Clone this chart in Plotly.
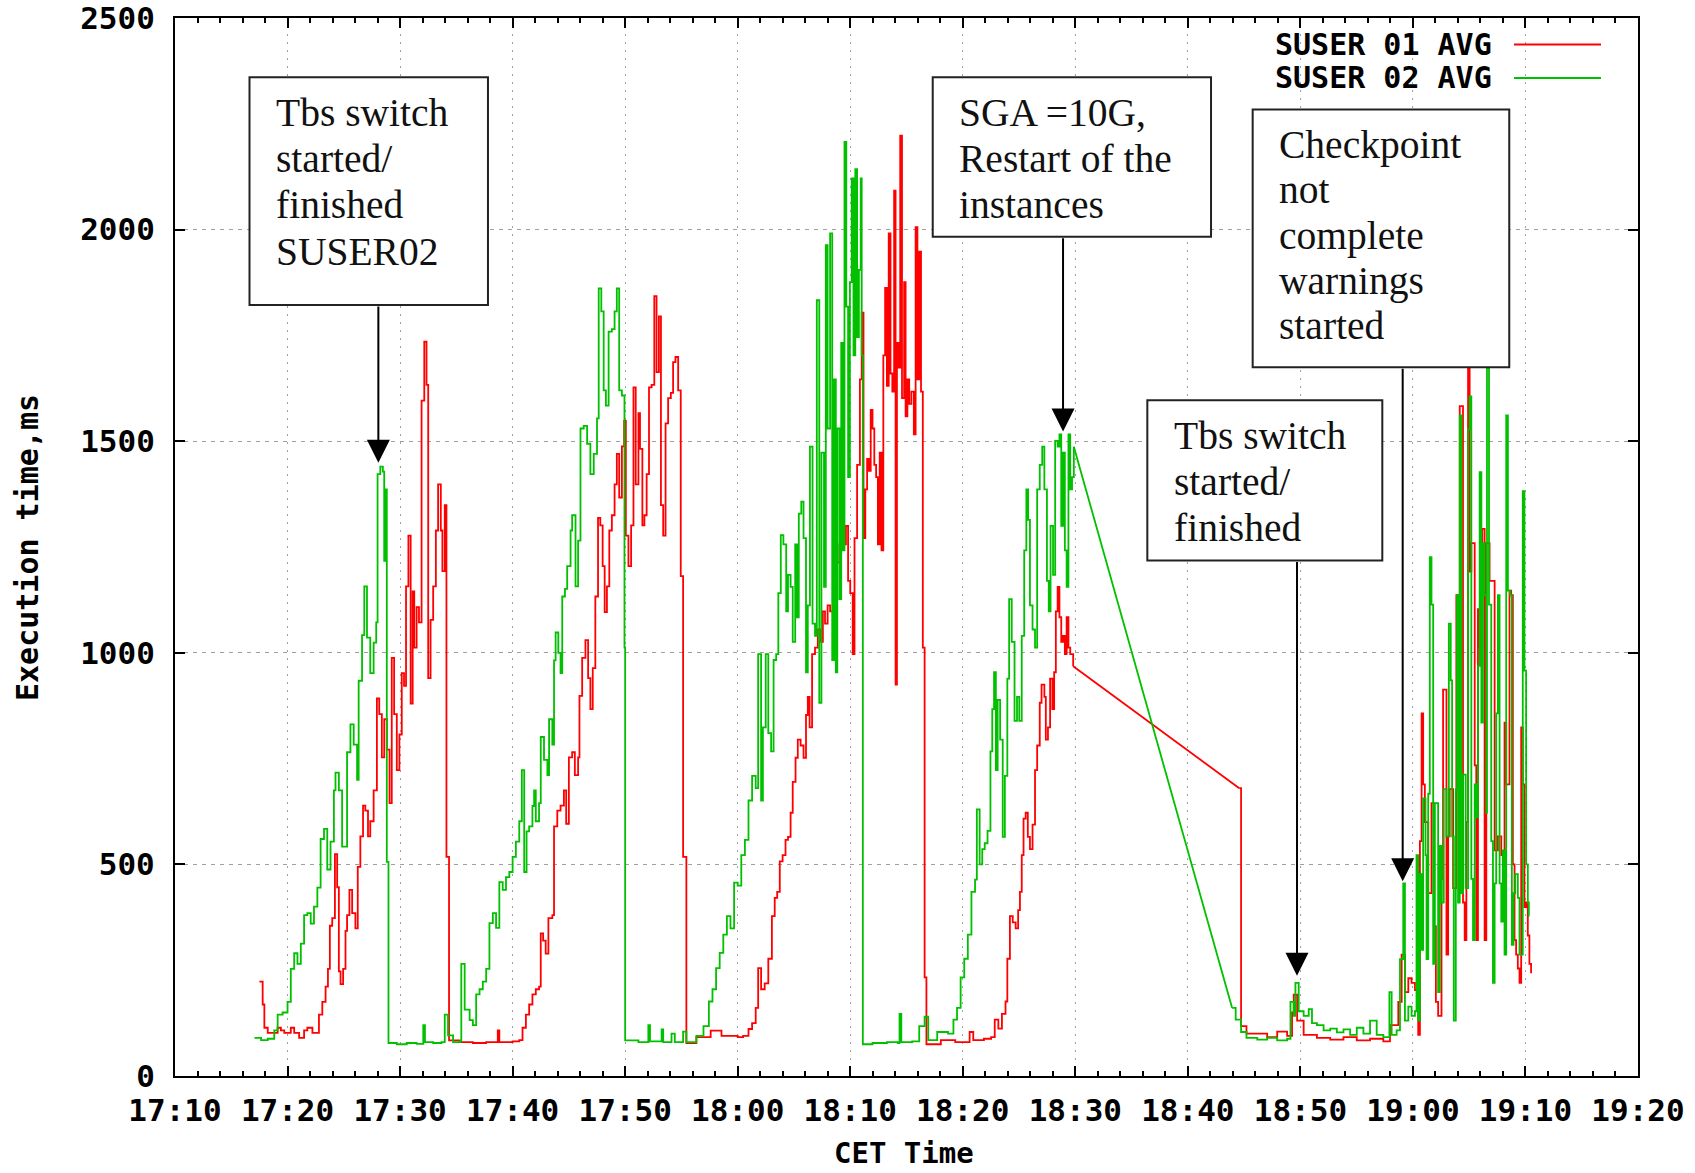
import numpy as np
import pandas as pd
import plotly.graph_objects as go

# ---------------- data (minutes after 17:00, execution time in ms) ----------------
red_cycle1 = [(17.50,223),(17.79,169),(17.94,114),(18.24,102),(18.82,102),(19.12,114),(19.41,108),(19.71,102),(20.29,114),(20.59,102),(21.03,90),(21.47,108),(21.76,114),(22.21,102),(22.65,102),(22.79,145),(23.09,175),(23.38,211),(23.59,253),(23.76,355),(23.97,373),(24.21,524),(24.41,446),(24.56,247),(24.71,217),(24.94,253),(25.15,343),(25.29,380),(25.50,440),(25.74,385),(26.03,349),(26.24,494),(26.47,566),(26.71,639),(26.91,627),(27.15,566),(27.35,602),(27.65,675),(27.94,892),(28.15,855),(28.38,753),(28.59,843),(28.82,771),(29.06,645),(29.26,988),(29.47,855),(29.71,723),(29.94,807),(30.15,952),(30.35,922),(30.53,1157),(30.74,1277),(30.94,880),(31.12,1145),(31.26,1012),(31.47,1108),(31.68,1072),(31.91,1596),(32.15,1735),(32.35,1633),(32.50,940),(32.71,1078),(32.94,1157),(33.18,1289),(33.38,1398),(33.62,1289),(33.76,1193),(33.97,1349),(34.12,518),(34.35,84)]
red_cycle2 = [(35.29,80),(36.47,78),(37.65,80),(38.68,108),(38.82,80),(40.0,82),(40.59,85),(40.88,114),(41.18,145),(41.47,169),(41.76,193),(42.06,205),(42.35,211),(42.50,337),(42.71,320),(42.94,289),(43.18,373),(43.53,380),(43.68,590),(43.97,627),(44.26,639),(44.56,675),(44.76,596),(45.0,753),(45.29,765),(45.53,711),(45.82,753),(45.94,898),(46.18,988),(46.47,1030),(46.71,940),(46.91,867),(47.12,964),(47.35,1133),(47.59,1319),(47.79,1301),(48.0,1205),(48.18,1096),(48.38,1157),(48.59,1289),(48.82,1325),(49.06,1398),(49.26,1470),(49.47,1367),(49.71,1488),(49.91,1548),(50.06,1277),(50.29,1205),(50.53,1301),(50.74,1627),(50.94,1398),(51.18,1566),(51.32,1482),(51.53,1301),(51.71,1325),(51.91,1422),(52.12,1627),(52.35,1633),(52.59,1843),(52.79,1663),(53.0,1795),(53.18,1349),(53.38,1277),(53.59,1542),(53.82,1602),(54.06,1614),(54.26,1687),(54.47,1699),(54.71,1620),(54.94,1181),(55.15,518),(55.44,78)]
red_cycle3 = [(56.33,92),(57.60,107),(58.56,95),(60.0,92),(60.48,95),(60.96,111),(61.28,125),(61.60,161),(61.82,255),(62.08,205),(62.40,219),(62.72,277),(63.04,378),(63.29,421),(63.51,435),(63.74,507),(63.99,522),(64.25,558),(64.47,565),(64.70,622),(64.89,695),(65.14,752),(65.34,795),(65.59,781),(65.85,752),(66.07,853),(66.23,896),(66.39,824),(66.61,997),(66.87,1012),(67.12,1055),(67.35,1026),(67.57,1098),(67.76,1069),(67.99,1112),(68.21,1098),(68.47,1127),(68.63,1055),(68.79,1213),(69.04,1256),(69.27,1357),(69.42,1256),(69.62,1300),(69.81,1170),(70.0,1141),(70.22,997),(70.38,1271),(70.61,1444),(70.86,1646),(71.02,1804),(71.18,1271),(71.34,1386),(71.50,1458),(71.66,1430),(71.82,1574),(71.98,1530),(72.14,1444),(72.30,1415),(72.46,1256),(72.62,1473),(72.78,1242),(72.94,1703),(73.10,1862),(73.26,1631),(73.42,1991),(73.58,1660),(73.74,1617),(73.90,2092),(74.03,925),(74.15,1732),(74.28,1674),(74.44,2222),(74.60,1602),(74.79,1876),(74.92,1559),(75.08,1646),(75.24,1588),(75.43,1617),(75.65,1516),(75.81,2006),(75.97,1646),(76.13,1948),(76.29,1617),(76.45,1012),(76.61,233),(76.77,75)]
red_cycle4 = [(78.05,85),(79.33,80),(80.61,104),(80.93,85),(81.88,88),(82.52,92),(82.84,133),(83.16,112),(83.48,147),(83.80,176),(83.96,277),(84.19,378),(84.44,363),(84.70,349),(84.92,392),(85.08,435),(85.24,522),(85.40,608),(85.59,622),(85.78,565),(85.97,536),(86.20,594),(86.42,723),(86.61,781),(86.84,882),(87.0,925),(87.25,896),(87.38,795),(87.57,824),(87.76,939),(87.96,867),(88.12,954),(88.27,1098),(88.43,1156),(88.59,1084),(88.75,1026),(88.91,1040),(89.07,997),(89.23,1084),(89.39,1012),(89.55,997),(89.81,968),(104.57,680),(104.73,118),(105.21,100)]
red_cycle5 = [(106.17,100),(107.05,92),(107.94,105),(108.82,95),(109.26,150),(109.41,192),(109.71,131),(110.29,97),(111.47,90),(112.65,86),(113.83,92),(115.01,84),(116.19,88),(117.37,82),(117.96,120),(118.55,120),(118.70,175),(119.0,287),(119.29,198),(119.59,231),(119.88,220),(120.18,203),(120.47,97),(120.62,555),(120.77,857),(120.91,689),(121.06,600),(121.36,432),(121.65,645),(121.86,354),(122.04,175),(122.24,142),(122.54,466),(122.68,913),(122.98,287),(123.13,566),(123.27,678),(123.57,444),(123.86,1136),(124.16,1583),(124.45,410),(124.60,321),(124.75,600),(124.90,1673),(125.04,1192),(125.19,1259),(125.49,734),(125.63,321),(125.78,1103),(125.93,1013),(126.16,1293),(126.37,321),(126.52,1259),(126.81,1170),(127.26,533),(127.55,566),(127.85,522),(128.14,835),(128.29,689),(128.58,1147),(128.73,1136),(128.88,500),(129.03,321),(129.17,287),(129.32,254),(129.47,220),(129.62,824),(129.76,689),(129.91,399),(130.06,410),(130.21,332),(130.35,265),(130.50,243)]

green_cycle1 = [(17.06,90),(17.65,85),(18.24,88),(18.82,108),(19.12,145),(19.56,150),(20.0,175),(20.29,253),(20.59,290),(20.88,265),(21.18,313),(21.47,380),(21.76,385),(22.06,360),(22.35,400),(22.65,445),(22.94,560),(23.24,584),(23.53,488),(23.82,554),(24.12,675),(24.26,717),(24.56,675),(24.85,542),(25.15,542),(25.29,765),(25.59,831),(25.88,783),(26.18,700),(26.32,934),(26.62,1042),(26.82,1157),(27.06,1036),(27.35,952),(27.65,1024),(27.88,1072),(28.0,1422),(28.24,1440),(28.47,1428),(28.59,1217),(28.74,1386),(28.82,506),(28.97,78)]
green_cycle2 = [(29.71,75),(30.59,78),(31.47,76),(32.06,120),(32.21,80),(32.94,78),(33.68,80),(33.97,145),(34.26,96),(34.71,80),(35.29,82),(35.44,265),(35.74,157),(36.18,132),(36.47,120),(36.76,193),(37.06,205),(37.35,223),(37.65,253),(37.94,361),(38.24,385),(38.53,350),(38.82,458),(39.12,440),(39.41,470),(39.71,482),(40.0,518),(40.29,554),(40.59,602),(40.82,723),(41.03,482),(41.24,578),(41.47,590),(41.76,638),(41.91,675),(42.06,602),(42.35,645),(42.5,801),(42.79,747),(43.09,711),(43.24,843),(43.53,783),(43.68,982),(43.82,1048),(44.06,1000),(44.26,952),(44.41,1133),(44.65,1151),(44.85,1205),(45.15,1289),(45.29,1325),(45.59,1157),(45.82,1265),(46.03,1530),(46.32,1536),(46.62,1494),(46.91,1422),(47.21,1470),(47.5,1554),(47.65,1861),(47.88,1807),(48.09,1620),(48.29,1584),(48.53,1759),(48.82,1765),(49.06,1807),(49.26,1861),(49.47,1620),(49.71,1608),(49.94,1012),(50.0,84)]
green_cycle3 = [(51.18,80),(52.06,120),(52.21,82),(53.24,110),(53.38,80),(54.12,100),(54.41,80),(55.15,105),(55.44,80),(56.33,95),(56.96,118),(57.44,176),(57.76,205),(58.08,255),(58.40,291),(58.72,334),(59.04,378),(59.36,349),(59.68,457),(60.0,450),(60.32,522),(60.64,558),(60.96,651),(61.28,709),(61.60,680),(61.82,997),(62.08,651),(62.24,824),(62.49,997),(62.72,810),(62.97,767),(63.19,983),(63.42,997),(63.61,1141),(63.83,1278),(64.06,1256),(64.31,1098),(64.47,1184),(64.70,1156),(64.89,1026),(65.11,1256),(65.27,1084),(65.43,1329),(65.65,1357),(65.85,1271),(66.07,954),(66.23,1112),(66.42,1487),(66.65,1069),(66.87,1040),(67.03,1833),(67.25,882),(67.44,1473),(67.67,1156),(67.83,1963),(67.99,1530),(68.21,1991),(68.40,983),(68.56,1646),(68.72,954),(68.85,1530),(69.04,1127),(69.20,1732),(69.36,1242),(69.49,2207),(69.65,1818),(69.81,1415),(69.97,1876),(70.13,2121),(70.29,1703),(70.45,2143),(70.61,1746),(70.77,1905),(70.93,2121),(71.02,1703),(71.12,75)]
green_cycle4 = [(71.98,78),(73.26,80),(74.22,78),(74.38,147),(74.54,80),(75.50,82),(76.13,118),(76.61,140),(76.93,85),(77.73,104),(78.69,100),(79.17,133),(79.49,161),(79.81,233),(80.13,277),(80.45,334),(80.77,435),(81.09,464),(81.25,630),(81.50,500),(81.73,536),(81.95,550),(82.20,579),(82.46,767),(82.62,867),(82.78,954),(82.94,723),(83.10,889),(83.32,795),(83.55,565),(83.74,709),(83.96,939),(84.12,1127),(84.35,1026),(84.60,839),(84.82,896),(85.02,839),(85.24,1040),(85.46,1242),(85.65,1386),(85.81,1314),(85.97,1112),(86.20,1055),(86.42,1012),(86.61,1386),(86.84,1444),(87.06,1487),(87.25,1386),(87.48,1170),(87.64,1098),(87.80,1300),(88.02,1184),(88.21,1501),(88.43,1487),(88.59,1516),(88.75,1300),(88.91,1473),(89.07,1242),(89.23,1156),(89.39,1516),(89.55,1386),(89.71,1415),(89.87,1487),(103.93,161),(104.25,133),(104.73,104),(105.21,90)]
green_cycle5 = [(106.17,86),(107.05,90),(107.94,84),(108.82,88),(109.12,175),(109.41,142),(109.56,220),(109.85,153),(110.29,142),(110.74,158),(111.03,125),(111.47,120),(112.06,108),(112.65,112),(113.24,103),(113.83,110),(114.42,97),(115.01,114),(115.60,100),(116.19,131),(116.78,97),(117.37,92),(117.91,198),(118.11,97),(118.55,108),(118.85,276),(119.14,455),(119.29,131),(119.59,164),(119.88,142),(120.18,153),(120.32,522),(120.47,131),(120.62,477),(120.77,298),(120.91,656),(121.12,522),(121.21,276),(121.36,667),(121.50,1226),(121.65,1114),(121.80,265),(121.95,645),(122.24,198),(122.39,544),(122.54,410),(122.74,678),(122.98,566),(123.19,1069),(123.36,935),(123.48,566),(123.63,131),(123.81,678),(123.92,1136),(124.01,410),(124.16,1561),(124.31,432),(124.45,712),(124.69,444),(124.90,1528),(125.04,1606),(125.19,466),(125.34,321),(125.49,689),(125.63,611),(125.78,969),(125.93,1427),(126.08,835),(126.22,1259),(126.37,1136),(126.52,622),(126.58,1673),(126.76,1114),(126.96,555),(127.11,220),(127.26,455),(127.40,857),(127.55,1136),(127.70,455),(127.85,365),(127.99,533),(128.14,287),(128.29,1561),(128.44,1147),(128.64,1136),(128.79,310),(128.94,432),(129.09,477),(129.32,421),(129.47,287),(129.62,287),(129.76,1382),(129.91,958),(130.06,500),(130.21,410),(130.30,377)]

series_names = ["SUSER 01 AVG", "SUSER 02 AVG"]
series_colors = ["#ff0000", "#00c000"]

# annotations: (text lines, box [t0, t1, ms_top, ms_bottom], arrow tip (t, ms))
notes = [
    (["Tbs switch", "started/", "finished", "SUSER02"], (16.62, 37.81, 2360, 1822), (28.07, 1449)),
    (["SGA =10G,", "Restart of the", "instances"], (77.33, 102.06, 2360, 1983), (88.91, 1523)),
    (["Tbs switch", "started/", "finished"], (96.40, 117.28, 1597, 1218), (109.70, 237)),
    (["Checkpoint", "not", "complete", "warnings", "started"], (105.76, 128.56, 2284, 1675), (119.09, 460)),
]
line_gap_ms = [109.0, 108.0, 108.0, 106.5]

# ---------------- helpers ----------------
BASE = pd.Timestamp("2011-01-01 17:00:00")


def tx(minutes):
    return BASE + pd.Timedelta(minutes=float(minutes))


def build(*segments, gap=3.0):
    """Step trace points (broken at long gaps) and linear link points across the gaps."""
    pts = [p for seg in segments for p in seg]
    sx, sy, lx, ly = [], [], [], []
    prev = None
    for t, v in pts:
        if prev is not None and t - prev[0] > gap:
            sx.append(None); sy.append(None)
            lx += [tx(prev[0]), tx(t), None]; ly += [prev[1], v, None]
        sx.append(tx(t)); sy.append(v)
        prev = (t, v)
    return sx, sy, lx, ly


red = build(red_cycle1, red_cycle2, red_cycle3, red_cycle4, red_cycle5)
green = build(green_cycle1, green_cycle2, green_cycle3, green_cycle4, green_cycle5)

W, H = 1695, 1173
PL, PR, PT, PB = 175, 1638, 18, 1076


def px(x):
    return (x - PL) / (PR - PL)


def py(y):
    return (PB - y) / (PB - PT)


MONO_T = dict(family="DejaVu Sans Mono", size=31, color="black", weight="bold")
MONO = dict(family="DejaVu Sans Mono", size=30, color="black", weight="bold")
SERIF = dict(family="Liberation Serif", size=39.5, color="#111111")

fig = go.Figure()
for (sx, sy, lx, ly), name, col in zip([red, green], series_names, series_colors):
    fig.add_trace(go.Scatter(x=sx, y=sy, mode="lines", name=name, line_shape="hv",
                             line=dict(color=col, width=1.8), showlegend=False))
    fig.add_trace(go.Scatter(x=lx, y=ly, mode="lines", name=name, line_shape="linear",
                             line=dict(color=col, width=1.8), showlegend=False, hoverinfo="skip"))

shapes = []
annotations = []

# legend (gnuplot style: text right-aligned, sample line to the right)
shapes.append(dict(type="rect", xref="paper", yref="paper", x0=px(1175), x1=px(1636),
                   y0=py(95), y1=py(20), fillcolor="white", line=dict(width=0), layer="between"))
for i, (name, col) in enumerate(zip(series_names, series_colors)):
    yc = [44.5, 78.0][i]
    annotations.append(dict(xref="paper", yref="paper", x=px(1494), y=py(yc), text=name,
                            showarrow=False, xanchor="right", yanchor="middle", font=MONO))
    shapes.append(dict(type="line", xref="paper", yref="paper", x0=px(1514), x1=px(1601),
                       y0=py(yc), y1=py(yc), line=dict(color=col, width=2), layer="above"))

# annotation boxes
for k, (lines, (t0, t1, mt, mb), (tt, tm)) in enumerate(notes):
    shapes.append(dict(type="rect", xref="x", yref="y", x0=tx(t0), x1=tx(t1), y0=mb, y1=mt,
                       fillcolor="white", line=dict(color="#222222", width=2), layer="above"))
    gap = line_gap_ms[k]
    for j, ln in enumerate(lines):
        annotations.append(dict(xref="x", yref="y", x=tx(t0 + 2.15), y=mt - 85 - j * gap,
                                text=ln, showarrow=False, xanchor="left", yanchor="middle",
                                font=SERIF))
    annotations.append(dict(xref="x", yref="y", x=tx(tt), y=tm, axref="x", ayref="y",
                            ax=tx(tt), ay=mb, text="", showarrow=True, arrowhead=2,
                            arrowsize=2.3, arrowwidth=2, arrowcolor="black", standoff=0))

# axis titles
annotations.append(dict(xref="paper", yref="paper", x=px(27), y=py(548), text="Execution time,ms",
                        textangle=-90, showarrow=False, xanchor="center", yanchor="middle", font=MONO))
annotations.append(dict(xref="paper", yref="paper", x=px(904), y=py(1153), text="CET Time",
                        showarrow=False, xanchor="center", yanchor="middle",
                        font=dict(MONO, size=29)))

fig.update_layout(
    width=W, height=H,
    margin=dict(l=PL, r=W - PR, t=PT, b=H - PB, autoexpand=False),
    paper_bgcolor="white", plot_bgcolor="white",
    shapes=shapes, annotations=annotations,
    showlegend=False,
)
fig.update_xaxes(
    type="date", range=[tx(10), tx(140)], tick0=tx(10), dtick=600000, tickformat="%H:%M",
    automargin=False, ticklabeloverflow="allow",
    showline=True, linecolor="black", linewidth=2, mirror="allticks",
    ticks="inside", ticklen=10, tickwidth=1.5, tickcolor="black",
    tickfont=MONO_T, ticklabelstandoff=6,
    showgrid=True, gridcolor="#a0a0a0", gridwidth=1, griddash="2px,6px",
    minor=dict(dtick=120000, ticks="inside", ticklen=5, tickcolor="black", showgrid=False),
    zeroline=False,
)
fig.update_yaxes(
    range=[0, 2500], dtick=500, tick0=0, automargin=False, ticklabeloverflow="allow",
    showline=True, linecolor="black", linewidth=2, mirror="allticks",
    ticks="inside", ticklen=10, tickwidth=1.5, tickcolor="black",
    tickfont=MONO_T, ticklabelstandoff=12,
    showgrid=True, gridcolor="#a0a0a0", gridwidth=1, griddash="4px,5px",
    zeroline=False,
)

fig.write_html("out.html", config={"displayModeBar": False},
               post_script="document.body.style.margin='0';document.body.style.padding='0';")
